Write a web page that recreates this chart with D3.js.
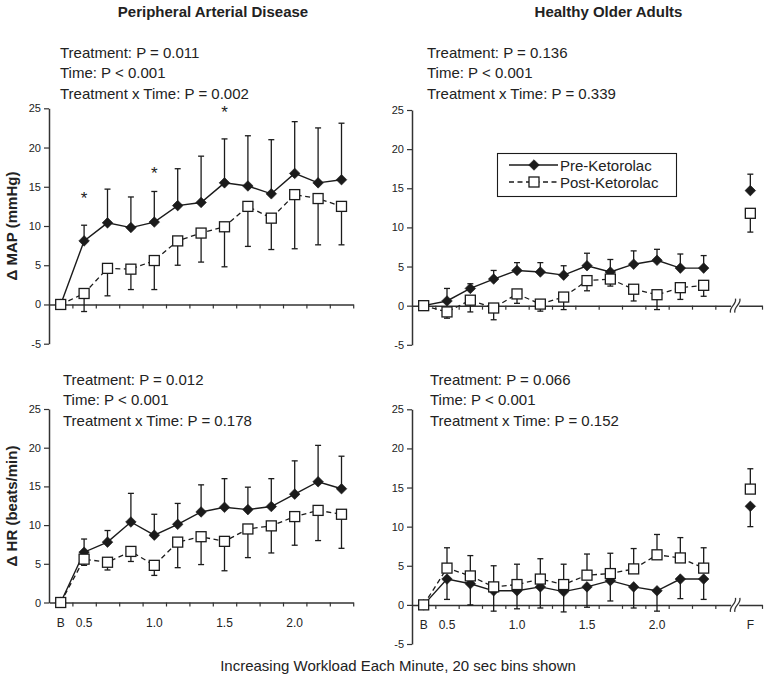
<!DOCTYPE html>
<html>
<head>
<meta charset="utf-8">
<script src="https://cdn.jsdelivr.net/npm/d3@7"></script>
<style>
  html, body { margin: 0; padding: 0; background: #fff; }
  svg { display: block; }
</style>
</head>
<body>
<script>
// ---------------- DATA ----------------
const binCategories = ["B", "b1", "b2", "b3", "b4", "b5", "b6", "b7", "b8", "b9", "b10", "b11", "b12"];
const binCategoriesWithFinal = [...binCategories, "gap", "F"];
const xTickLabels = ["B", "0.5", "", "", "1.0", "", "", "1.5", "", "", "2.0", "", "", "", "F"];
const yTicksFull = [-5, 0, 5, 10, 15, 20, 25];
const yTicksPos = [0, 5, 10, 15, 20, 25];
const seriesNames = ["Pre-Ketorolac", "Post-Ketorolac"];

// Peripheral Arterial Disease — Δ MAP (mmHg)
const padMapPre     = [0, 8.1, 10.4, 9.8, 10.5, 12.6, 13.0, 15.5, 15.1, 14.1, 16.7, 15.5, 15.9];
const padMapPreErr  = [0, 2.0, 4.3, 3.9, 3.9, 4.7, 5.9, 5.6, 6.4, 6.9, 6.6, 7.0, 7.2];
const padMapPost    = [0, 1.4, 4.6, 4.5, 5.6, 8.1, 9.1, 9.9, 12.5, 11.0, 14.0, 13.5, 12.5];
const padMapPostErr = [0, 2.3, 3.5, 2.6, 3.7, 3.1, 3.7, 5.1, 5.1, 4.0, 6.9, 5.9, 4.9];
const padMapStarIdx = [1, 4, 7];
const padMapStarVal = [14.0, 17.2, 24.9];

// Healthy Older Adults — Δ MAP (mmHg)  (index 13 = gap, 14 = F)
const hoaMapPre     = [0, 0.6, 2.2, 3.4, 4.5, 4.3, 3.9, 5.1, 4.3, 5.3, 5.8, 4.8, 4.8, null, 14.7];
const hoaMapPreErr  = [0, 1.6, 0.6, 1.1, 1.0, 1.2, 1.2, 1.6, 1.6, 1.7, 1.4, 1.8, 1.6, null, 2.1];
const hoaMapPost    = [0, -0.8, 0.7, -0.3, 1.5, 0.2, 1.1, 3.2, 3.4, 2.1, 1.4, 2.3, 2.6, null, 11.8];
const hoaMapPostErr = [0, 0.8, 1.5, 1.5, 1.2, 0.9, 1.6, 1.3, 0.9, 1.5, 1.9, 1.5, 1.4, null, 2.4];

// Peripheral Arterial Disease — Δ HR (beats/min)
const padHrPre      = [0, 6.5, 7.8, 10.4, 8.7, 10.1, 11.7, 12.3, 12.0, 12.4, 14.0, 15.6, 14.7];
const padHrPreErr   = [0, 1.7, 1.5, 3.7, 2.7, 2.7, 3.5, 3.7, 2.9, 3.6, 4.3, 4.7, 4.2];
const padHrPost     = [0, 5.6, 5.2, 6.6, 4.8, 7.8, 8.5, 7.9, 9.5, 9.9, 11.1, 11.9, 11.4];
const padHrPostErr  = [0, 0.8, 1.0, 1.3, 1.3, 3.3, 3.6, 3.8, 3.7, 3.5, 3.7, 3.9, 4.4];

// Healthy Older Adults — Δ HR (beats/min)
const hoaHrPre      = [0, 3.3, 2.7, 1.8, 1.8, 2.3, 1.7, 2.3, 3.1, 2.3, 1.8, 3.3, 3.3, null, 12.6];
const hoaHrPreErr   = [0, 2.6, 2.7, 2.6, 2.3, 2.7, 2.6, 2.6, 2.6, 2.7, 2.6, 2.5, 2.6, null, 2.6];
const hoaHrPost     = [0, 4.7, 3.7, 2.3, 2.6, 3.3, 2.6, 3.8, 4.0, 4.6, 6.4, 6.0, 4.7, null, 14.8];
const hoaHrPostErr  = [0, 2.6, 2.6, 2.7, 2.6, 2.6, 2.6, 2.7, 2.6, 2.6, 2.6, 2.6, 2.6, null, 2.6];

const groupTitles = ["Peripheral Arterial Disease", "Healthy Older Adults"];
const yAxisTitles = ["\u0394 MAP (mmHg)", "\u0394 HR (beats/min)"];
const xAxisTitle = "Increasing Workload Each Minute, 20 sec bins shown";
const statsPadMap = ["Treatment: P = 0.011", "Time: P < 0.001", "Treatment x Time: P = 0.002"];
const statsHoaMap = ["Treatment: P = 0.136", "Time: P < 0.001", "Treatment x Time: P = 0.339"];
const statsPadHr  = ["Treatment: P = 0.012", "Time: P < 0.001", "Treatment x Time: P = 0.178"];
const statsHoaHr  = ["Treatment: P = 0.066", "Time: P < 0.001", "Treatment x Time: P = 0.152"];

// ---------------- DRAWING ----------------
const W = 764, H = 682;
const INK = "#1b1b1b", AXIS = "#333", TXT = "#222";
const FONT = "'Liberation Sans', Arial, Helvetica, sans-serif";

const svg = d3.select("body").append("svg")
  .attr("width", W).attr("height", H)
  .style("font-family", FONT);

const panels = [
  { cats: binCategories, x0: 49, x1: 353.2, yDomain: [-5, 25], yRange: [343.7, 108.3], yTicks: yTicksFull,
    pre: padMapPre, preErr: padMapPreErr, post: padMapPost, postErr: padMapPostErr, preDir: 1, postDir: -1,
    labels: false, stats: statsPadMap, statsX: 60, statsY: 57.5, stars: true },
  { cats: binCategoriesWithFinal, x0: 412, x1: 762, yDomain: [-5, 25], yRange: [344.8, 110], yTicks: yTicksFull,
    pre: hoaMapPre, preErr: hoaMapPreErr, post: hoaMapPost, postErr: hoaMapPostErr, preDir: 1, postDir: -1,
    labels: false, stats: statsHoaMap, statsX: 427, statsY: 57.5, brk: true, legend: true },
  { cats: binCategories, x0: 49, x1: 353.2, yDomain: [0, 25], yRange: [602.5, 409], yTicks: yTicksPos,
    pre: padHrPre, preErr: padHrPreErr, post: padHrPost, postErr: padHrPostErr, preDir: 1, postDir: -1,
    labels: true, stats: statsPadHr, statsX: 63, statsY: 384.5 },
  { cats: binCategoriesWithFinal, x0: 412, x1: 762, yDomain: [-5, 25], yRange: [644, 409.3], yTicks: yTicksFull,
    pre: hoaHrPre, preErr: hoaHrPreErr, post: hoaHrPost, postErr: hoaHrPostErr, preDir: -1, postDir: 1,
    labels: true, stats: statsHoaHr, statsX: 430, statsY: 384.5, brk: true }
];

const diamondPath = d3.symbol(d3.symbolSquare, 56)();

function drawMarker(sel, type) {
  if (type === "pre") {
    sel.append("path").attr("d", diamondPath)
      .attr("transform", function () { return d3.select(this).attr("transform") + " rotate(45)"; });
  }
}

panels.forEach(p => {
  const g = svg.append("g");
  const n = p.cats.length;
  const x = d3.scaleBand().domain(d3.range(n)).range([p.x0, p.x1]).padding(0);
  const xb = d3.scaleLinear().domain([0, n]).range([p.x0, p.x1]);
  const y = d3.scaleLinear().domain(p.yDomain).range(p.yRange);
  const cx = i => x(i) + x.bandwidth() / 2;
  const y0 = y(0);

  // y axis
  const ya = g.append("g").attr("transform", `translate(${p.x0},0)`)
    .call(d3.axisLeft(y).tickValues(p.yTicks).tickSize(5).tickSizeOuter(0).tickPadding(3)
      .tickFormat(d => String(d)));
  ya.selectAll("path.domain").attr("stroke", AXIS).attr("stroke-width", 1.5);
  ya.selectAll(".tick line").attr("stroke", AXIS).attr("stroke-width", 1.2);
  ya.selectAll(".tick text").attr("fill", TXT).style("font-size", "11px").style("font-family", FONT);

  // x axis (boundary ticks)
  const bTicks = d3.range(1, n + 1).filter(k => !(p.brk && k === n - 1));
  const xa = g.append("g").attr("transform", `translate(0,${y0})`)
    .call(d3.axisBottom(xb).tickValues(bTicks).tickSize(4).tickSizeOuter(0).tickFormat(""));
  xa.selectAll("path.domain").attr("stroke", AXIS).attr("stroke-width", 1.5);
  xa.selectAll(".tick line").attr("stroke", AXIS).attr("stroke-width", 1.2);

  // x tick labels (category centres)
  if (p.labels) {
    const xl = g.append("g").attr("transform", `translate(0,${y0})`)
      .call(d3.axisBottom(x).tickSize(0).tickPadding(15.5).tickFormat(i => xTickLabels[i] || ""));
    xl.select("path.domain").remove();
    xl.selectAll(".tick text").attr("fill", TXT).style("font-size", "12px").style("font-family", FONT);
  }

  // axis break
  if (p.brk) {
    const bx = xb(n - 1) - 3.5;
    g.append("rect").attr("x", bx - 4).attr("y", y0 - 3).attr("width", 8).attr("height", 6).attr("fill", "#fff");
    [-2.2, 2.2].forEach(dx => {
      g.append("path")
        .attr("d", `M${bx + dx - 2.5},${y0 + 7} C${bx + dx - 4},${y0 + 1} ${bx + dx + 4},${y0 - 1} ${bx + dx + 2.5},${y0 - 7}`)
        .attr("fill", "none").attr("stroke", AXIS).attr("stroke-width", 1.3);
    });
  }

  const idx = d3.range(n).filter(i => p.pre[i] != null);

  // lines
  const line = arr => d3.line().defined((d, i) => arr[i] != null && i < binCategories.length)
    .x((d, i) => cx(i)).y(d => y(d))(arr.map(v => v == null ? 0 : v));
  g.append("path").attr("d", line(p.pre)).attr("fill", "none").attr("stroke", INK).attr("stroke-width", 1.4);
  g.append("path").attr("d", line(p.post)).attr("fill", "none").attr("stroke", INK).attr("stroke-width", 1.3)
    .attr("stroke-dasharray", "5,3.5");

  // error bars
  const errBars = (vals, errs, dir) => {
    idx.forEach(i => {
      if (!errs[i]) return;
      const yv = y(vals[i]), ye = y(vals[i] + dir * errs[i]);
      g.append("line").attr("x1", cx(i)).attr("x2", cx(i)).attr("y1", yv).attr("y2", ye)
        .attr("stroke", INK).attr("stroke-width", 1.3);
      g.append("line").attr("x1", cx(i) - 3).attr("x2", cx(i) + 3).attr("y1", ye).attr("y2", ye)
        .attr("stroke", INK).attr("stroke-width", 1.3);
    });
  };
  errBars(p.pre, p.preErr, p.preDir);
  errBars(p.post, p.postErr, p.postDir);

  // markers: pre diamonds, post squares
  g.selectAll(null).data(idx).enter().append("path")
    .attr("d", diamondPath)
    .attr("transform", i => `translate(${cx(i)},${y(p.pre[i])}) rotate(45)`)
    .attr("fill", INK).attr("stroke", INK).attr("stroke-width", 0.6);
  g.selectAll(null).data(idx).enter().append("rect")
    .attr("x", i => cx(i) - 5).attr("y", i => y(p.post[i]) - 5)
    .attr("width", 10).attr("height", 10)
    .attr("fill", "#fff").attr("stroke", INK).attr("stroke-width", 1.3);

  // significance stars
  if (p.stars) {
    padMapStarIdx.forEach((i, k) => {
      g.append("text").attr("x", cx(i)).attr("y", y(padMapStarVal[k]) + 9)
        .attr("text-anchor", "middle").attr("fill", TXT).style("font-size", "17px").text("*");
    });
  }

  // stats text
  p.stats.forEach((s, k) => {
    g.append("text").attr("x", p.statsX).attr("y", p.statsY + k * 20.5)
      .attr("fill", TXT).style("font-size", "15px").text(s);
  });

  // legend
  if (p.legend) {
    const lg = g.append("g");
    lg.append("rect").attr("x", 497.5).attr("y", 153.5).attr("width", 179).attr("height", 43)
      .attr("fill", "#fff").attr("stroke", INK).attr("stroke-width", 1.1);
    const rows = [165, 182];
    rows.forEach((ry, k) => {
      lg.append("line").attr("x1", 509).attr("x2", 558).attr("y1", ry).attr("y2", ry)
        .attr("stroke", INK).attr("stroke-width", k === 0 ? 1.4 : 1.3)
        .attr("stroke-dasharray", k === 0 ? null : "5,3.5");
      if (k === 0) {
        lg.append("path").attr("d", diamondPath).attr("transform", `translate(534,${ry}) rotate(45)`)
          .attr("fill", INK).attr("stroke", INK).attr("stroke-width", 0.6);
      } else {
        lg.append("rect").attr("x", 529).attr("y", ry - 5).attr("width", 10).attr("height", 10)
          .attr("fill", "#fff").attr("stroke", INK).attr("stroke-width", 1.3);
      }
      lg.append("text").attr("x", 560).attr("y", ry + 5.5).attr("fill", TXT)
        .style("font-size", "15px").text(seriesNames[k]);
    });
  }
});

// group titles
[[213, groupTitles[0]], [608.5, groupTitles[1]]].forEach(([tx, t]) => {
  svg.append("text").attr("x", tx).attr("y", 16.5).attr("text-anchor", "middle")
    .attr("fill", TXT).style("font-size", "15px").style("font-weight", "bold").text(t);
});

// y axis titles
[[226, yAxisTitles[0]], [506, yAxisTitles[1]]].forEach(([ty, t]) => {
  svg.append("text").attr("transform", `translate(17,${ty}) rotate(-90)`)
    .attr("text-anchor", "middle").attr("fill", TXT)
    .style("font-size", "15px").style("font-weight", "bold").text(t);
});

// x axis title
svg.append("text").attr("x", 398).attr("y", 671).attr("text-anchor", "middle")
  .attr("fill", TXT).style("font-size", "15px").text(xAxisTitle);
</script>
</body>
</html>
